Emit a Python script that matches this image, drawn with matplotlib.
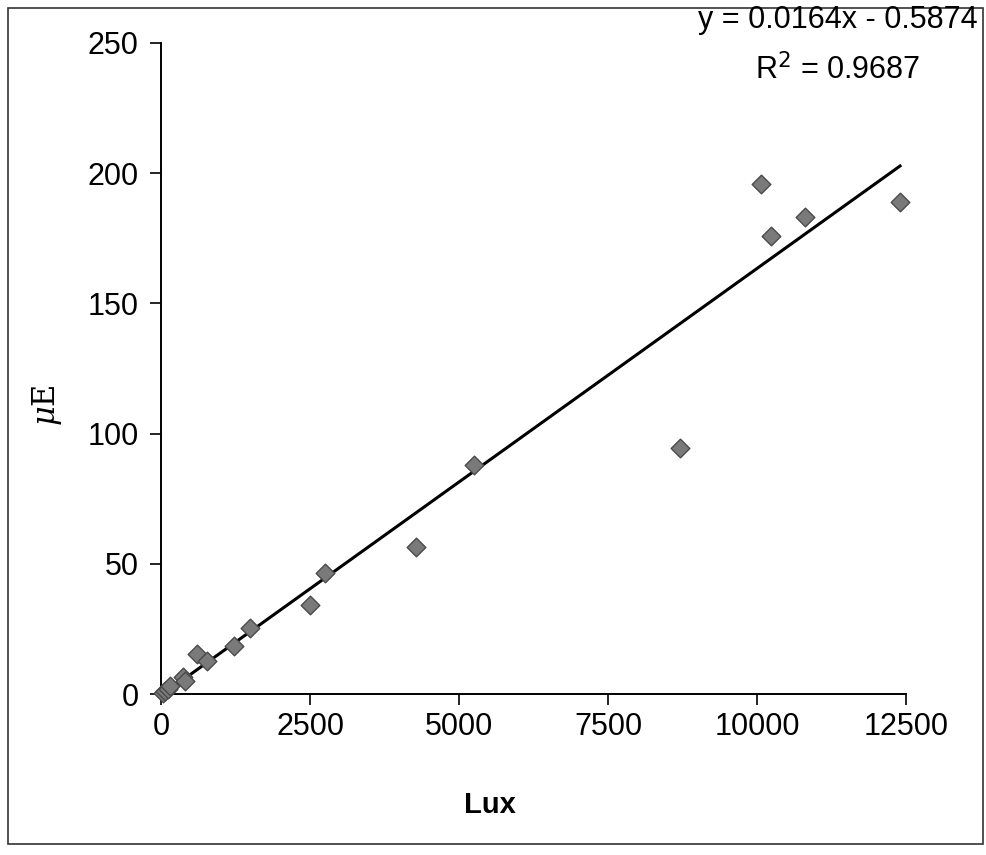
import matplotlib
matplotlib.use("Agg")
import matplotlib.pyplot as plt
from matplotlib.patches import Rectangle

# readings (lux vs microeinstein)
lux = [30, 60, 120, 150, 370, 410, 600, 770, 1230, 1500,
       2500, 2750, 4280, 5250, 8700, 10070, 10240, 10800, 12400]
uE = [0.5, 1.0, 2.0, 3.0, 6.5, 5.0, 15.5, 12.5, 18.5, 25.5,
      34.0, 46.5, 56.5, 88.0, 94.5, 196.0, 176.0, 183.0, 189.0]

# trendline as reported on the chart
slope = 0.0164
intercept = -0.5874
r2 = 0.9687

x_ticks = [0, 2500, 5000, 7500, 10000, 12500]
y_ticks = [0, 50, 100, 150, 200, 250]

plt.rcParams["font.family"] = ["Liberation Sans", "DejaVu Sans"]

fig = plt.figure(figsize=(9.87, 8.55), dpi=100)
ax = fig.add_axes([161 / 987, 1 - 694 / 855, (906 - 161) / 987, (694 - 43) / 855])

ax.scatter(lux, uE, marker="D", s=90, color="#7a7a7a",
           edgecolors="#4a4a4a", linewidths=1.0, zorder=3, clip_on=False)

x0, x1 = 0, max(lux)
ax.plot([x0, x1], [slope * x0 + intercept, slope * x1 + intercept],
        color="black", lw=2.2, zorder=2, clip_on=False)

ax.set_xlim(0, 12500)
ax.set_ylim(0, 250)
ax.set_xticks(x_ticks)
ax.set_yticks(y_ticks)
ax.tick_params(direction="out", length=8, width=1.2, labelsize=22)
ax.tick_params(axis="x", pad=5)
ax.tick_params(axis="y", pad=8)
ax.spines["top"].set_visible(False)
ax.spines["right"].set_visible(False)
for s in ("left", "bottom"):
    ax.spines[s].set_linewidth(1.4)

fig.text(490 / 987, 1 - 805 / 855, "Lux", fontsize=21, fontweight="bold",
         ha="center", va="center")
fig.text(47 / 987, 1 - 405 / 855, r"$\mu$E", fontsize=22, rotation=90,
         ha="center", va="center", family="DejaVu Serif",
         math_fontfamily="dejavuserif")

fig.text(838 / 987, 1 - 20 / 855, f"y = {slope}x - {abs(intercept)}",
         fontsize=22, ha="center", va="center")
fig.text(838 / 987, 1 - 70 / 855, f"R$^2$ = {r2}",
         fontsize=22, ha="center", va="center")

fig.patches.append(Rectangle((8 / 987, 1 - 844 / 855), (983 - 8) / 987,
                             (844 - 8) / 855, transform=fig.transFigure,
                             fill=False, edgecolor="#333333", lw=1.2))

fig.savefig("out.png", dpi=100)
